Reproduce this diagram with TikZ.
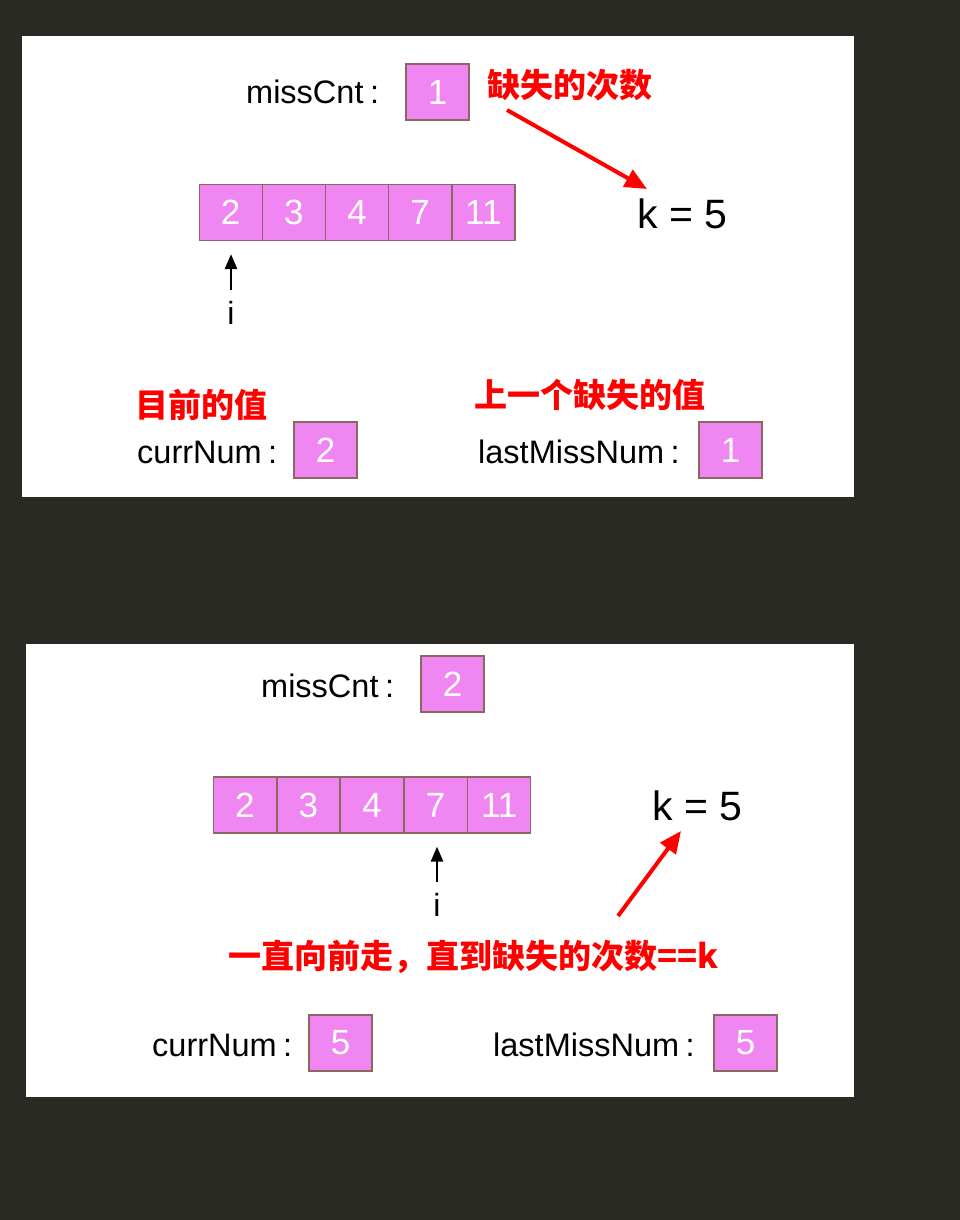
\documentclass[tikz,border=0pt]{standalone}
\usepackage{fontspec}
\setmainfont{Liberation Sans}
\newfontfamily\cjk{Noto Sans CJK SC}
\usetikzlibrary{arrows.meta}
\definecolor{bgdark}{RGB}{42,42,37}
\definecolor{cellfill}{RGB}{240,134,242}
\definecolor{celldraw}{RGB}{138,104,96}
\definecolor{redtxt}{RGB}{255,0,0}
\tikzset{
  cell/.style={draw=celldraw, line width=1.2pt, fill=cellfill, minimum width=63pt, minimum height=56pt, inner sep=0pt, text=white, font=\fontsize{35}{40}\selectfont},
  lbl/.style={anchor=base west, inner sep=0pt, font=\fontsize{32.5}{38}\selectfont, text=black},
  kl/.style={anchor=base west, inner sep=0pt, font=\fontsize{41}{46}\selectfont, text=black},
  note/.style={anchor=west, inner sep=0pt, font=\cjk\bfseries\fontsize{33}{38}\selectfont, text=redtxt},
  idx/.style={inner sep=0pt, font=\fontsize{32}{38}\selectfont, text=black},
  redarrow/.style={draw=redtxt, line width=4pt, -{Triangle[length=22pt,width=19pt]}},
  blackarrow/.style={draw=black, line width=2.6pt, -{Triangle[length=15pt,width=12pt]}},
  panel/.style={fill=white, draw=none}
}
\begin{document}
\begin{tikzpicture}[x=1pt, y=-1pt]
\fill[bgdark] (0,0) rectangle (960,1220);
\useasboundingbox (0,0) rectangle (960,1220);
% panel 1
\fill[panel] (22,36) rectangle (854,497);
\node[lbl] (mc1) at (246,104) {missCnt\hspace{0.2em}:};
\node[cell] (mcv1) at (437.5,92) {1};
\node[note] (n1) at (487,85) {缺失的次数};
\foreach \v [count=\j] in {2,3,4,7,11} {
  \node[cell] (a\j) at ({167.4+63.2*\j},212.5) {\v};
}
\node[kl] (k1) at (637,228) {k = 5};
\node[idx] (i1) at (231,313) {i};
\draw[blackarrow] ([yshift=11pt]i1.north) -- ([yshift=-13pt]i1.north |- a1.south);
\coordinate (r1s) at (507,110);
\coordinate (r1e) at (647,189);
\draw[redarrow] (r1s) -- (r1e);
\node[note] (n2) at (135,405) {目前的值};
\node[lbl] (cn1) at (137,463) {currNum\hspace{0.2em}:};
\node[cell] (cnv1) at (325.5,450) {2};
\node[note] (n3) at (474,395) {上一个缺失的值};
\node[lbl] (lm1) at (478,463) {lastMissNum\hspace{0.2em}:};
\node[cell] (lmv1) at (730.5,450) {1};
% panel 2
\fill[panel] (26,644) rectangle (854,1097);
\node[lbl] (mc2) at (261,697) {missCnt\hspace{0.2em}:};
\node[cell] (mcv2) at (452.5,684) {2};
\foreach \v [count=\j] in {2,3,4,7,11} {
  \node[cell] (b\j) at ({181.2+63.6*\j},805) {\v};
}
\node[kl] (k2) at (652,820) {k = 5};
\node[idx] (i2) at (437,905) {i};
\draw[blackarrow] ([yshift=11pt]i2.north) -- ([yshift=-13pt]i2.north |- b4.south);
\coordinate (r2s) at (618,916);
\coordinate (r2e) at (681,831);
\draw[redarrow] (r2s) -- (r2e);
\node[note] (n4) at (228,957) {一直向前走，直到缺失的次数==k};
\node[lbl] (cn2) at (152,1056) {currNum\hspace{0.2em}:};
\node[cell] (cnv2) at (340.5,1043) {5};
\node[lbl] (lm2) at (493,1056) {lastMissNum\hspace{0.2em}:};
\node[cell] (lmv2) at (745.5,1043) {5};
\end{tikzpicture}
\end{document}
